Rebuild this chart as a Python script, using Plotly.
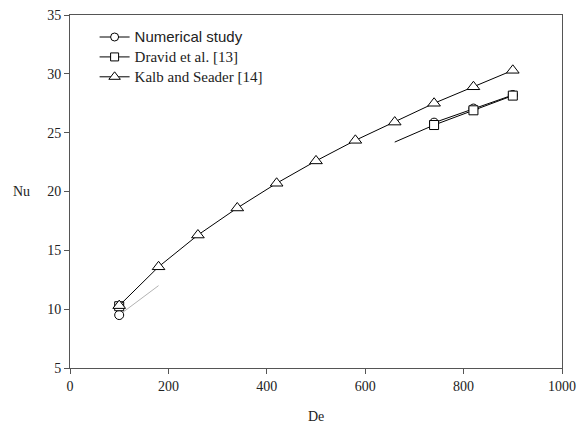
import plotly.graph_objects as go

# Kalb and Seader [14]
de_kalb = [100, 180, 260, 340, 420, 500, 580, 660, 740, 820, 900]
nu_kalb = [10.3, 13.6, 16.3, 18.6, 20.7, 22.6, 24.35, 25.9, 27.5, 28.9, 30.3]

# Dravid et al. [13]
de_dravid = [100, 660, 740, 820, 900]
nu_dravid = [10.25, 24.2, 25.65, 26.9, 28.15]

# Numerical study
de_num = [100, 180, 740, 820, 900]
nu_num = [9.5, 12.0, 25.85, 27.05, 28.2]

x_ticks = [0, 200, 400, 600, 800, 1000]
y_ticks = [5, 10, 15, 20, 25, 30, 35]

SERIF = "Liberation Serif"
AXIS_GREY = "#555555"

fig = go.Figure()


def add_series(name, label, de, nu, symbol, size, marked, solid_from, faint_to=None):
    # visible connecting line
    fig.add_trace(go.Scatter(
        x=de[solid_from:], y=nu[solid_from:], mode="lines",
        line=dict(color="black", width=1), showlegend=False, hoverinfo="skip"))
    if faint_to is not None:
        fig.add_trace(go.Scatter(
            x=de[:faint_to + 1], y=nu[:faint_to + 1], mode="lines",
            line=dict(color="rgba(0,0,0,0.3)", width=1),
            showlegend=False, hoverinfo="skip"))
    # markers
    fig.add_trace(go.Scatter(
        x=[d for d, m in zip(de, marked) if m],
        y=[v for v, m in zip(nu, marked) if m],
        mode="markers",
        marker=dict(symbol=symbol, size=size, color="white",
                    line=dict(color="black", width=1)),
        showlegend=False, name=name))
    # legend entry
    fig.add_trace(go.Scatter(
        x=[None], y=[None], mode="lines+markers", name=label,
        line=dict(color="black", width=1),
        marker=dict(symbol=symbol, size=size - 1, color="white",
                    line=dict(color="black", width=1))))


add_series("Numerical study",
           "<span style='font-family:Liberation Sans;font-size:15px'>Numerical study</span>",
           de_num, nu_num, "circle", 9, [True, False, True, True, True], 2, faint_to=1)
add_series("Dravid et al. [13]",
           "<span style='font-size:15px'>Dravid et al. [13]</span>",
           de_dravid, nu_dravid, "square", 9, [True, False, True, True, True], 1)
add_series("Kalb and Seader [14]",
           "<span style='font-size:15px'>Kalb and Seader [14]</span>",
           de_kalb, nu_kalb, "triangle-up", 11, [True] * len(de_kalb), 0)

axis_common = dict(
    showgrid=False, zeroline=False, showline=True, linecolor=AXIS_GREY,
    linewidth=1, mirror=True, ticks="outside", ticklen=5, tickcolor=AXIS_GREY,
    tickwidth=1, tickfont=dict(family=SERIF, size=14, color="#222222"),
)

fig.update_layout(
    width=580, height=430,
    margin=dict(l=70, r=18, t=15, b=62, autoexpand=False),
    paper_bgcolor="white", plot_bgcolor="white",
    font=dict(family=SERIF, color="#222222"),
    xaxis=dict(range=[0, 1000], tickvals=x_ticks, **axis_common),
    yaxis=dict(range=[5, 35], tickvals=y_ticks, **axis_common),
    legend=dict(x=0.05, y=0.98, xanchor="left", yanchor="top",
                bgcolor="rgba(0,0,0,0)", font=dict(family=SERIF, size=13),
                tracegroupgap=0, itemwidth=30),
    annotations=[
        dict(text="Nu", x=-0.078, y=0.5, xref="paper", yref="paper",
             showarrow=False, xanchor="right",
             font=dict(family=SERIF, size=14, color="#222222")),
        dict(text="De", x=0.5, y=-0.136, xref="paper", yref="paper",
             showarrow=False, xanchor="center", yanchor="middle",
             font=dict(family=SERIF, size=14, color="#222222")),
    ],
)

fig.write_html("out.html")
